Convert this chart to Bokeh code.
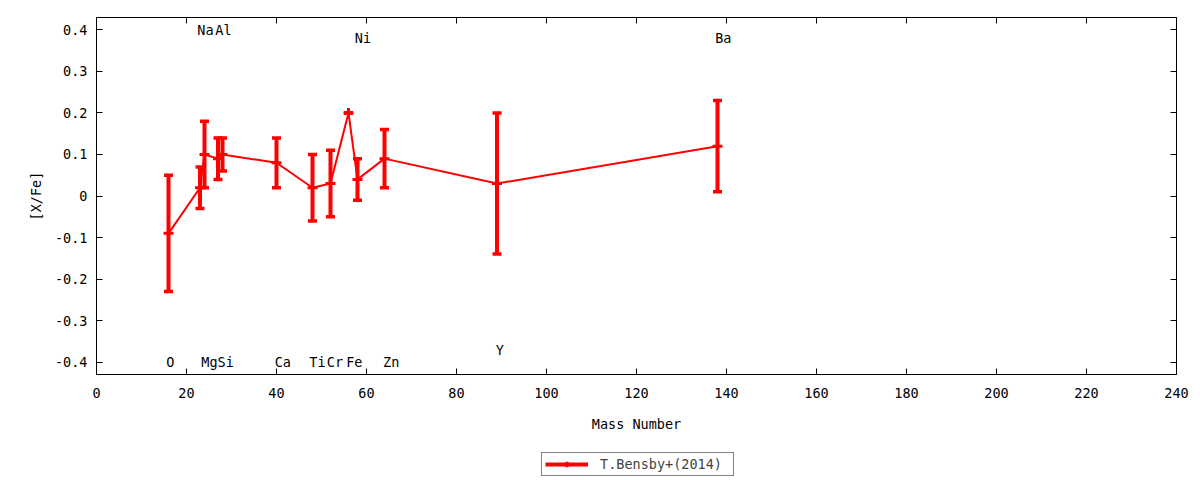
from bokeh.core.properties import value
from bokeh.embed import file_html
from bokeh.layouts import column
from bokeh.models import (ColumnDataSource, CustomJSTickFormatter, FixedTicker,
                          Legend, LegendItem, LinearAxis, NumeralTickFormatter,
                          Range1d)
from bokeh.plotting import figure
from bokeh.resources import INLINE

# T.Bensby+(2014): [X/Fe] against mass number
mass = [16, 23, 24, 27, 28, 40, 48, 52, 56, 58, 64, 89, 138]
xfe = [-0.09, 0.02, 0.10, 0.09, 0.10, 0.08, 0.02, 0.03, 0.20, 0.04, 0.09,
       0.03, 0.12]
err = [0.14, 0.05, 0.08, 0.05, 0.04, 0.06, 0.08, 0.08, 0.0, 0.05, 0.07,
       0.17, 0.11]

# element names as they are written on the plot
elements = ['O', 'Na', 'Mg', 'Al', 'Si', 'Ca', 'Ti', 'Cr', 'Fe', 'Ni', 'Zn',
            'Y', 'Ba']
label_x = [16.4, 24.2, 25.1, 28.2, 28.7, 41.4, 49.1, 53.0, 57.3, 59.2, 65.5,
           89.6, 139.3]
label_y = [-0.40, 0.40, -0.40, 0.40, -0.40, -0.40, -0.40, -0.40, -0.40, 0.38,
           -0.40, -0.37, 0.38]

x_ticks = list(range(0, 241, 20))
y_ticks = [-0.4, -0.3, -0.2, -0.1, 0, 0.1, 0.2, 0.3, 0.4]

RED = '#ff0000'
FONT = 'DejaVu Sans Mono'
FSIZE = '13.5px'


def errorbars(plot, source, capsource):
    line = plot.line('mass', 'xfe', source=source, line_color=RED,
                     line_width=2)
    bars = plot.segment('mass', 'lower', 'mass', 'upper', source=source,
                        line_color=RED, line_width=4)
    plot.scatter('x', 'y', source=capsource, marker='dash', size=9,
                 line_color=RED, line_width=3.5)
    pts = plot.scatter('mass', 'xfe', source=source, marker='cross', size=10,
                       line_color=RED, line_width=3)
    return line, bars, pts


src = ColumnDataSource(dict(
    mass=mass, xfe=xfe,
    lower=[v - e for v, e in zip(xfe, err)],
    upper=[v + e for v, e in zip(xfe, err)],
))
caps = ColumnDataSource(dict(
    x=mass + mass,
    y=src.data['lower'] + src.data['upper'],
))

p = figure(width=1200, height=440, x_range=Range1d(0, 240),
           y_range=Range1d(-0.43, 0.43), output_backend='svg',
           toolbar_location=None, min_border_left=96, min_border_right=24,
           min_border_top=17, min_border_bottom=66,
           x_axis_label='Mass Number', y_axis_label='[X/Fe]')
p.grid.visible = False
p.outline_line_color = 'black'
p.outline_line_width = 1

errorbars(p, src, caps)

p.text(x=label_x, y=label_y, text=elements, text_font=value(FONT),
       text_font_size=FSIZE, text_color='black', text_align='center',
       text_baseline='middle')

# mirror axes on the top and right, ticks only
blank = CustomJSTickFormatter(code="return ''")
p.add_layout(LinearAxis(formatter=blank), 'above')
p.add_layout(LinearAxis(formatter=blank), 'right')

p.xaxis.ticker = FixedTicker(ticks=x_ticks)
p.yaxis.ticker = FixedTicker(ticks=y_ticks)
p.left[0].formatter = NumeralTickFormatter(format='0.[0]')
for ax in p.axis:
    ax.major_tick_in = 6
    ax.major_tick_out = 0
    ax.minor_tick_line_color = None
    ax.axis_line_color = 'black'
    ax.major_tick_line_color = 'black'
    ax.major_label_text_font = FONT
    ax.major_label_text_font_size = FSIZE
    ax.major_label_text_color = 'black'
    ax.axis_label_text_font = FONT
    ax.axis_label_text_font_size = FSIZE
    ax.axis_label_text_font_style = 'normal'
    ax.axis_label_text_color = 'black'
for ax in p.above + p.right:
    ax.major_label_standoff = 0
p.below[0].major_label_standoff = 13
p.below[0].axis_label_standoff = 15
p.left[0].major_label_standoff = 9
p.left[0].axis_label_standoff = 8

# gnuplot puts the key under the plot; a strip of its own holds it here.
# The strip's x range lies away from the data, so only the legend shows.
key = figure(width=1200, height=40, x_range=Range1d(-2, -1),
             y_range=Range1d(0, 1), output_backend='svg',
             toolbar_location=None, x_axis_location=None,
             y_axis_location=None, min_border=0, outline_line_color=None)
key.grid.visible = False
_, kbars, kpts = errorbars(key, src, caps)

legend = Legend(items=[LegendItem(label='T.Bensby+(2014)',
                                  renderers=[kbars, kpts])],
                location=(445, 4), orientation='horizontal', margin=0,
                border_line_color='black', border_line_width=1,
                background_fill_alpha=1.0, padding=3, spacing=0,
                glyph_width=43, glyph_height=14, label_height=14,
                label_standoff=12, label_width=130,
                label_text_font=FONT, label_text_font_size=FSIZE)
key.add_layout(legend)

open('out.html', 'w').write(file_html(column(p, key), INLINE))
